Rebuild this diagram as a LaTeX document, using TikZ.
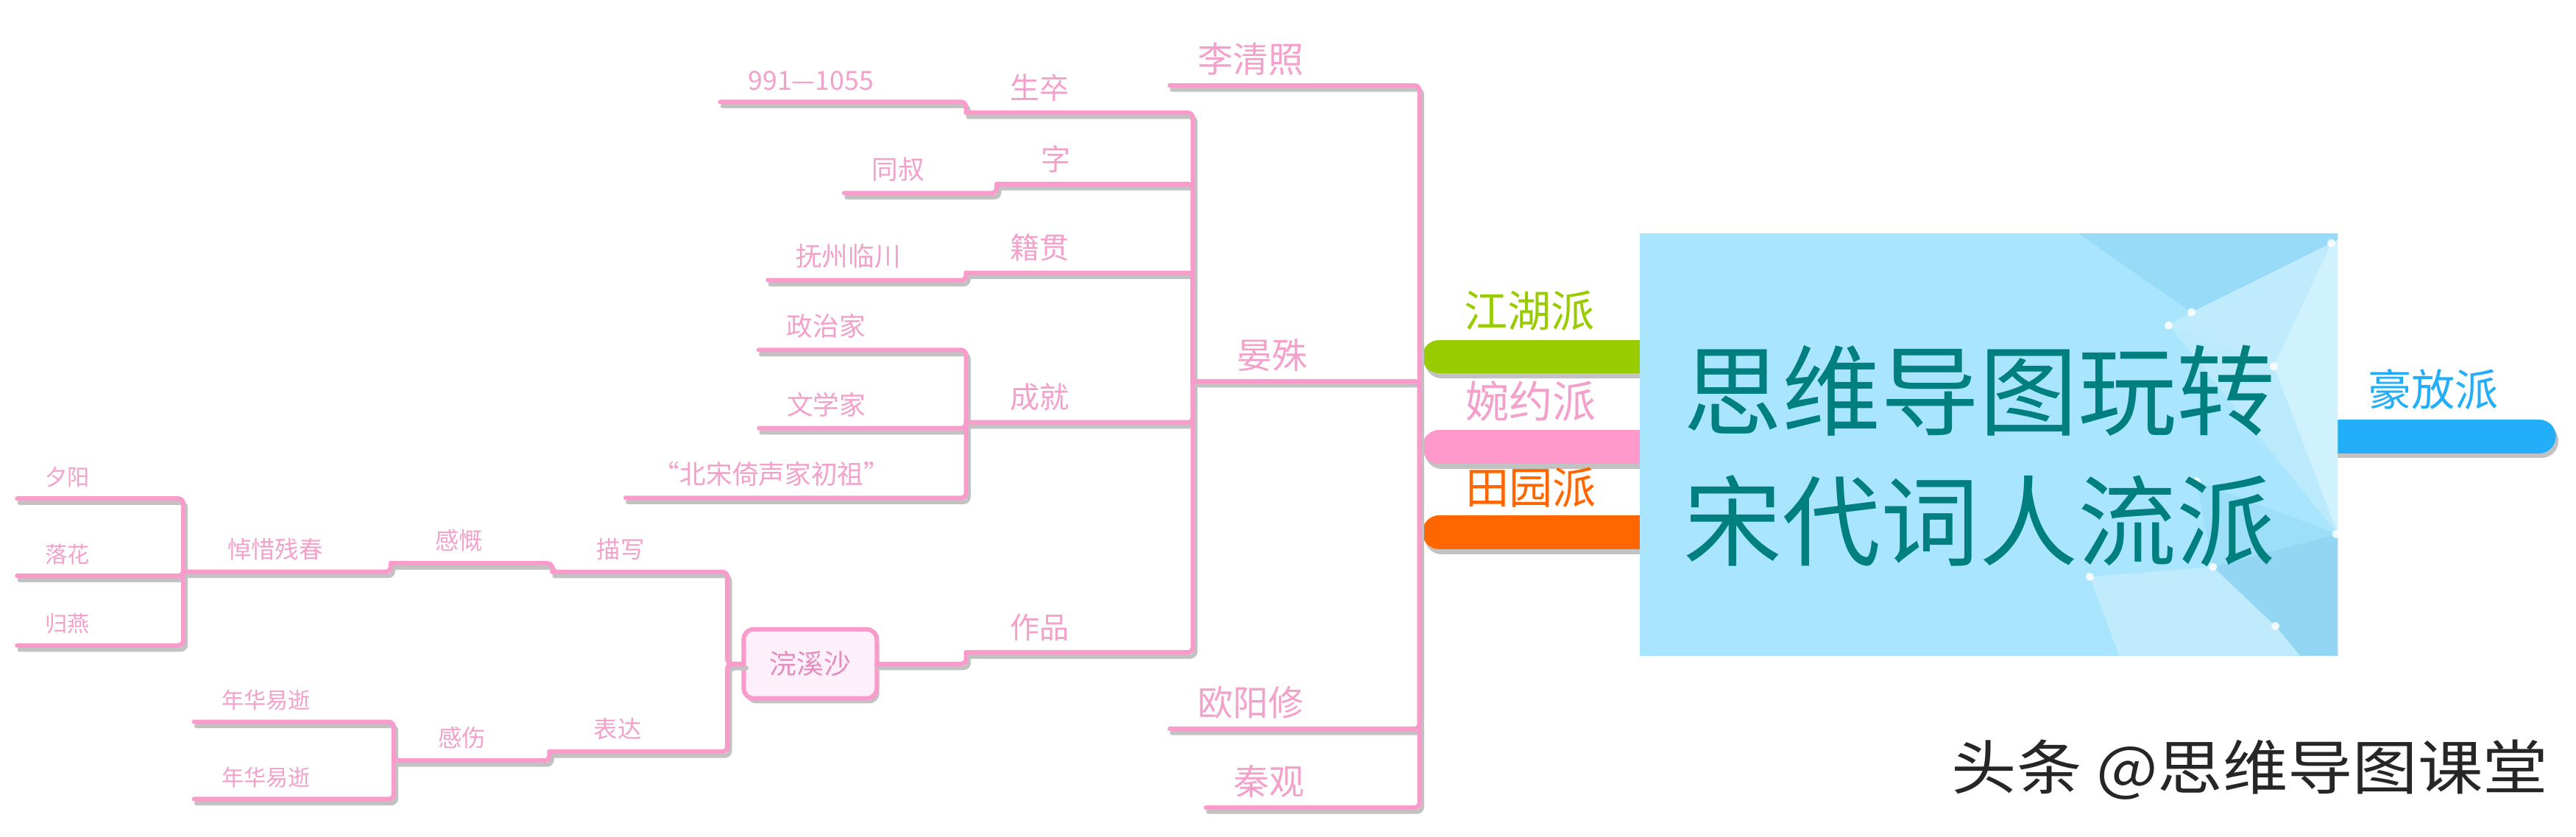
\documentclass[tikz,border=0pt]{standalone}
\usepackage{fontspec}
\setmainfont{Noto Sans CJK SC}
\usepackage{tikz}
\usetikzlibrary{shadows}

\definecolor{linkpink}{HTML}{F99BCB}
\definecolor{textpink}{HTML}{F3A1CB}
\definecolor{shadowgray}{HTML}{C2C2C2}
\definecolor{boxblue}{HTML}{A9E5FC}
\definecolor{boxdark}{HTML}{98DBF8}
\definecolor{boxlight}{HTML}{C0EBFD}
\definecolor{boxpale}{HTML}{D0F1FE}
\definecolor{boxlow}{HTML}{92D6F4}
\definecolor{titleteal}{HTML}{007F7F}
\definecolor{jhgreen}{HTML}{99CC00}
\definecolor{wypink}{HTML}{FF99CC}
\definecolor{tyorange}{HTML}{FF6600}
\definecolor{hfblue}{HTML}{22AEF8}
\definecolor{wxsfill}{HTML}{FDF0FA}
\definecolor{wxstext}{HTML}{E48CBE}

\pgfdeclarelayer{bg}
\pgfsetlayers{bg,main}

\begin{document}
\begin{tikzpicture}[x=1pt,y=-1pt,outer sep=0pt,line join=round]
\tikzstyle{topic}=[anchor=south west,inner xsep=17pt,inner ysep=7pt,text=textpink]
\tikzstyle{wide}=[inner xsep=27pt]
\tikzstyle{poet}=[topic,inner ysep=6pt,font=\fontsize{21.5}{24}\selectfont]
\tikzstyle{attr}=[topic,wide,font=\fontsize{18}{20}\selectfont]
\tikzstyle{detail}=[topic,font=\fontsize{16}{18}\selectfont]
\tikzstyle{minor}=[topic,font=\fontsize{14.5}{16}\selectfont]
\tikzstyle{leaf}=[topic,font=\fontsize{13.5}{15}\selectfont]
\tikzstyle{school}=[font=\fontsize{26.5}{30}\selectfont]
\tikzstyle{piece}=[draw=linkpink,line width=2.7pt,fill=wxsfill,rounded corners=6pt,minimum width=81pt,minimum height=42pt,text=wxstext,font=\fontsize{16.5}{18}\selectfont,drop shadow={shadow xshift=1.5pt,shadow yshift=-3pt,fill=shadowgray,opacity=1}]
\tikzstyle{link}=[draw=linkpink,line width=2.7pt,line cap=round,rounded corners=3pt]
\tikzstyle{linkshadow}=[link,draw=shadowgray,transform canvas={xshift=1.5pt,yshift=-2.5pt}]
\tikzstyle{bar}=[line width=20.5pt,line cap=round,preaction={draw=shadowgray,line width=20.5pt,line cap=round,transform canvas={xshift=1.5pt,yshift=-3pt}}]

\begin{pgfonlayer}{bg}
\fill[white] (0,0) rectangle (1568,509);
\end{pgfonlayer}
\useasboundingbox (0,0) rectangle (1568,509);

\node[fill=boxblue,minimum width=425pt,minimum height=257pt,inner sep=0pt] (title) at (1210.5,270.5) {};
\fill[boxdark] (1265,142) -- (1423,142) -- (1423,146) -- (1419,148) -- (1334,190) -- cycle;
\fill[boxlight] (1334,190) -- (1419,148) -- (1384,223) -- (1320,198) -- cycle;
\fill[boxpale] (1419,148) -- (1423,146) -- (1423,325) -- (1384,223) -- cycle;
\fill[boxlight!80!boxblue] (1320,198) -- (1384,223) -- (1423,325) -- cycle;
\fill[boxdark!70!boxblue] (1337,293) -- (1423,325) -- (1347,345) -- cycle;
\fill[boxlow] (1423,325) -- (1423,399) -- (1400,399) -- (1385,381) -- (1347,345) -- cycle;
\fill[boxlight] (1272,351) -- (1347,345) -- (1385,381) -- (1400,399) -- (1290,399) -- cycle;
\foreach \p in {(1419,148),(1334,190),(1320,198),(1384,223),(1337,293),(1422,325),(1347,345),(1272,351),(1385,381)}
  \fill[white,opacity=.85] \p circle (2.5);
\node[text=titleteal,align=center,font=\fontsize{60}{79}\selectfont] (titletext) at (1205,277.5) {思维导图玩转\\宋代词人流派};

\coordinate (jh) at (876,217);
\coordinate (wy) at (876,272);
\coordinate (ty) at (876,324);
\coordinate (hf) at (1545.5,265.5);
\coordinate (wyj) at (864,272);
\begin{pgfonlayer}{bg}
\draw[bar,draw=jhgreen] (jh) -- (title.center |- jh);
\draw[bar,draw=wypink] (wy) -- (title.center |- wy);
\draw[bar,draw=tyorange] (ty) -- (title.center |- ty);
\draw[bar,draw=hfblue] (title.center |- hf) -- (hf);
\end{pgfonlayer}
\node[school,text=jhgreen] (jhl) at (931,189) {江湖派};
\node[school,text=textpink] (wyl) at (932,244) {婉约派};
\node[school,text=tyorange] (tyl) at (932,296.5) {田园派};
\node[school,text=hfblue] (hfl) at (1481,237) {豪放派};

\node[poet] (lqz) at (712,52) {李清照};
\node[poet,wide] (ys) at (726,232) {晏殊};
\node[poet] (oyx) at (712,443.5) {欧阳修};
\node[poet] (qg) at (734,491.5) {秦观};

\node[attr] (sz) at (588,68.6) {生卒};
\node[attr] (zi) at (606.7,112) {字};
\node[attr] (jg) at (588,166) {籍贯};
\node[attr] (cj) at (588,257) {成就};
\node[attr] (zp) at (588,397) {作品};

\node[detail] (d) at (438.4,62) {991—1055};
\node[detail] (tongshu) at (513.8,117.5) {同叔};
\node[detail] (fz) at (467.4,170.5) {抚州临川};
\node[detail] (zzj) at (461.8,213) {政治家};
\node[detail] (wxj) at (462,260.6) {文学家};
\node[detail] (bs) at (380.8,303) {“北宋倚声家初祖”};

\node[piece] (wxs) at (493.2,404) {浣溪沙};
\node[minor,wide] (mx) at (336.2,348) {描写};
\node[minor,wide] (bd) at (334.4,457.4) {表达};
\node[minor,wide] (gk) at (237.8,342.8) {感慨};
\node[minor,wide] (gs) at (239.6,462.8) {感伤};
\node[minor,wide] (dx) at (111.5,347.9) {悼惜残春};
\node[leaf] (nh1) at (118.1,439.3) {年华易逝};
\node[leaf] (nh2) at (118.1,486.3) {年华易逝};
\node[leaf] (xy) at (10.4,303.4) {夕阳};
\node[leaf] (lh) at (10.4,350.4) {落花};
\node[leaf] (gy) at (10.4,392.8) {归燕};

\foreach \s in {linkshadow,link}{
  \foreach \c in {lqz,ys,oyx,qg}
    \draw[\s] (\c.south west) -- (\c.south east) -| (wyj);
  \foreach \c/\p in {sz/ys,zi/ys,jg/ys,cj/ys,zp/ys,d/sz,tongshu/zi,fz/jg,zzj/cj,wxj/cj,bs/cj,
      gk/mx,dx/gk,xy/dx,lh/dx,gy/dx,gs/bd,nh1/gs,nh2/gs}
    \draw[\s] (\c.south west) -- (\c.south east) -| (\p.south west);
  \foreach \c in {mx,bd}
    \draw[\s] (\c.south west) -- (\c.south east) -| ([xshift=-10pt]wxs.west) -- (wxs.west);
  \draw[\s] (wxs.east) -| (zp.south west);
}

\node[text=black!85,font=\fontsize{36}{40}\selectfont] (wm) at (1369.5,468.5) {\scalebox{1.1}[1]{头条 @思维导图课堂}};
\end{tikzpicture}
\end{document}
